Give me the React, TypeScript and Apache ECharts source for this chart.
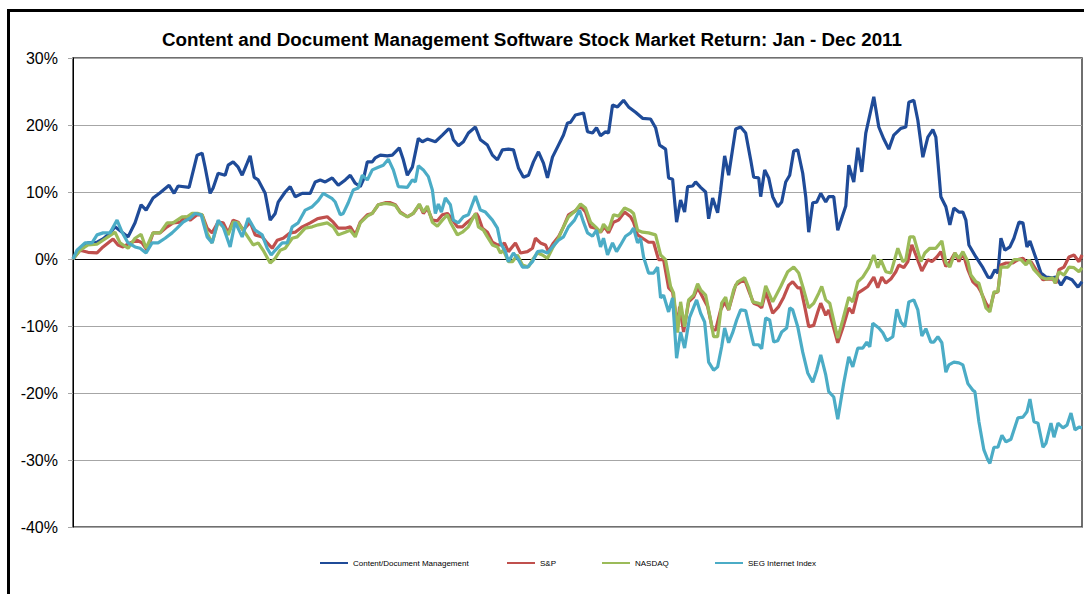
import React, { useEffect, useRef } from "react";
import * as echarts from "echarts";

// x = trading day of 2011 (0 = first trading day), y = cumulative return in %
const seriesNames = ["Content/Document Management", "S&P", "NASDAQ", "SEG Internet Index"];
const seriesColors = ["#1F4B98", "#C0504D", "#9BBB59", "#4BACC6"];
const legendLeft = [320, 507, 602, 715];

const contentDocMgmt: [number, number][] = [[0,0],[1.75,1.6],[3.75,2.4],[6,2.5],[7.5,3.0],[9.25,3.9],[10.5,4.8],[12.25,4.0],[13.75,3.3],[15.5,5.4],[17,8.1],[18.25,7.3],[20,9.1],[21.75,9.9],[24,11.0],[25.25,9.8],[26.25,10.9],[29,10.7],[31,15.5],[32.25,15.8],[33,13.7],[34.25,9.8],[35,10.6],[36.25,12.8],[38,12.5],[38.75,14.0],[40,14.5],[41.25,13.7],[42.25,12.5],[43.5,14.3],[44.25,15.4],[45.25,12.2],[46.25,11.8],[48,9.8],[49.25,5.8],[50.5,6.8],[51.25,8.5],[53,10.0],[54.25,10.8],[55.5,9.3],[57.25,9.8],[59.25,9.8],[60.5,11.5],[61.75,11.8],[63,11.5],[64.75,12.1],[66.25,11.0],[68,11.8],[69.25,12.5],[70.5,11.3],[71.75,10.8],[72.5,11.8],[73.5,14.5],[74.75,14.5],[75.5,15.1],[76.75,15.5],[78.5,15.4],[79.75,15.5],[81.5,16.6],[82.5,14.8],[83.5,12.5],[84.75,13.7],[86.25,18.0],[87.25,17.5],[88.5,17.9],[90.5,17.5],[92.25,18.5],[93.75,19.4],[94.25,19.3],[95,17.8],[96.25,16.9],[97.5,17.5],[98.75,18.8],[100.5,19.7],[101.75,17.8],[103.5,17.0],[104.75,15.5],[106,14.8],[107.25,16.3],[108.75,16.4],[110,16.3],[111.25,13.6],[112.5,12.2],[113.75,12.5],[115,14.5],[116.25,16.0],[117.5,14.3],[118.5,12.1],[119.75,15.2],[121.25,17.0],[122.5,18.5],[123.5,20.3],[124.25,20.4],[125.5,21.5],[127.5,21.8],[128.5,19.0],[129.75,18.8],[130.75,19.6],[131.75,18.4],[133,19.0],[133.75,18.8],[134.75,23.0],[136,22.7],[137.5,23.7],[138.75,22.7],[140.5,21.9],[142.25,21.0],[144.25,20.9],[145.5,19.6],[146.5,17.0],[148,16.4],[148.75,12.1],[149.75,11.9],[150.75,5.5],[151.75,8.8],[152.75,7.0],[153.5,10.8],[154.75,10.9],[155.5,11.5],[156.75,10.7],[158,10.0],[158.75,6.0],[159.75,9.1],[161,6.9],[161.75,10.3],[162.75,15.4],[163.75,12.5],[165.5,19.4],[166.75,19.7],[168,18.8],[169.25,14.8],[170,12.2],[171.25,12.1],[171.75,9.3],[172.75,13.3],[173.75,12.1],[174.75,9.3],[176,7.8],[177,8.5],[178,11.5],[179,12.5],[180,16.1],[181,16.3],[182.25,12.8],[183,9.3],[183.75,4.0],[184.75,8.4],[185.75,8.5],[186.75,9.8],[188,8.5],[188.75,9.3],[190,9.3],[191,4.3],[193,7.9],[193.75,14.0],[195,11.5],[196,16.6],[197,13.0],[198,18.8],[200,24.2],[201.25,19.7],[202.5,17.9],[203.75,16.4],[205,18.5],[206.75,19.5],[208,19.7],[208.75,23.4],[210,23.7],[211,20.7],[212.25,15.2],[213.5,18.2],[214.75,19.3],[215.5,18.2],[216.75,9.3],[218,7.8],[219,5.1],[220,7.6],[221.25,7.0],[222.25,7.0],[223,5.8],[223.75,2.1],[225.5,0.3],[227.25,-1.3],[228.5,-2.7],[229.25,-2.8],[230.25,-1.6],[231,-2.1],[231.75,3.1],[232.75,1.3],[234,1.8],[235,3.1],[236.25,5.5],[237.25,5.4],[238.25,1.8],[239,2.7],[240.5,0.1],[241.75,-2.1],[243,-2.7],[244.5,-2.8],[245.5,-2.7],[246.75,-3.9],[248,-2.7],[249.5,-3.1],[251,-4.2],[252,-3.4]];

const sp500: [number, number][] = [[0,0],[1.75,1.3],[3.75,1.0],[6,0.9],[7.5,1.8],[8.75,2.4],[10,3.0],[11.25,2.1],[12.5,1.8],[14.25,2.4],[16,2.8],[17.25,2.4],[18.5,1.3],[20,3.9],[21.75,3.9],[23.5,4.8],[25,5.4],[26.75,5.5],[28,6.3],[29.25,5.8],[31,6.6],[32.25,6.6],[33.5,4.6],[34.75,3.9],[36.25,5.5],[37.5,5.4],[38.75,3.9],[40,5.8],[41.25,5.5],[42.5,4.3],[44.25,5.5],[45.5,3.6],[47.25,3.3],[48.5,2.4],[49.75,1.6],[51,2.8],[52.5,3.1],[54.25,3.9],[55.5,4.0],[57.25,4.8],[59.25,5.4],[61,6.0],[61.75,6.1],[63.5,6.3],[65,5.5],[66.25,4.6],[68,4.6],[69.25,4.8],[70.5,3.6],[71.75,5.5],[73.5,6.6],[74.75,6.8],[76.25,8.1],[78,8.4],[79.25,8.4],[80.5,8.1],[81.75,7.0],[83.5,6.3],[85,6.8],[86.5,8.1],[87.5,6.8],[88.5,7.6],[89.75,5.8],[91,5.7],[92.25,6.6],[93.5,6.8],[94.25,6.3],[96,4.8],[97.25,4.8],[98.5,5.5],[99.75,6.1],[100.75,6.8],[101.25,6.3],[102.25,4.6],[103.5,4.0],[104.75,2.5],[106,2.1],[107.25,2.1],[107.75,2.4],[108.75,1.1],[110.5,2.4],[111.75,0.9],[113.5,1.1],[114.75,1.6],[115.5,3.1],[116.75,2.4],[118,2.1],[118.75,1.1],[120,2.4],[121.25,3.3],[122.5,4.8],[123.75,6.6],[125.5,7.2],[126.75,7.9],[128,7.0],[129.25,4.8],[130.5,4.6],[131.75,4.0],[132.75,4.8],[133.75,3.9],[135,5.5],[136.25,5.8],[137.75,7.0],[139.25,6.3],[140,5.5],[141,3.6],[142.25,3.1],[143.75,2.5],[145,2.5],[146.25,-0.1],[147.5,-0.1],[148.75,-4.3],[149.75,-4.9],[151,-10.1],[151.5,-7.1],[152.5,-10.9],[153.75,-6.4],[155,-5.7],[156,-4.3],[156.75,-5.1],[158.5,-7.1],[159.75,-10.6],[160.5,-10.6],[161.75,-7.6],[162.75,-6.4],[163.75,-7.6],[165.5,-3.9],[166.75,-3.4],[167.75,-3.1],[169,-5.1],[170,-6.6],[171.25,-6.9],[172,-7.3],[173,-4.9],[174.75,-8.1],[176.25,-7.1],[177.5,-5.7],[178.75,-3.9],[179.75,-3.4],[181,-4.3],[181.75,-4.3],[182.75,-7.1],[183.75,-10.1],[185,-9.9],[186,-7.9],[186.75,-6.6],[188,-8.4],[188.75,-7.6],[191,-12.5],[192.25,-10.3],[193.75,-7.3],[194.75,-8.1],[196,-5.1],[197.25,-4.6],[198.5,-4.1],[200,-2.7],[201,-4.3],[202,-2.7],[203,-3.6],[204.25,-3.0],[205.5,-1.9],[206.25,-0.9],[207.5,-1.3],[208.5,-0.4],[209.5,2.1],[210.5,0.6],[212,-1.8],[213.5,-0.1],[214.5,-0.4],[215.75,0.3],[216.75,1.1],[218,-1.1],[219,-0.4],[220.25,0.9],[221.25,-0.4],[222.25,0.9],[223.5,-1.6],[224.75,-3.4],[226,-4.1],[226.75,-4.9],[228,-6.6],[229,-7.5],[230,-5.1],[231,-4.9],[231.75,-0.9],[233,-0.6],[234.75,-0.6],[236,-0.1],[237.25,0.1],[238.25,-0.6],[239.25,-0.4],[240.5,-1.6],[242.25,-3.1],[243.5,-3.0],[244.75,-3.0],[245.5,-3.6],[246.25,-1.6],[247.5,-1.2],[248.75,0.3],[250,0.6],[251.25,-0.4],[252,0.6]];

const nasdaq: [number, number][] = [[0,0],[1.75,1.3],[3.75,2.1],[6,2.2],[7.5,2.8],[8.75,3.3],[10.5,4.0],[11.75,2.4],[13.75,1.6],[15.5,3.1],[17,3.7],[18.25,1.6],[20,3.9],[21.75,3.9],[23.5,5.4],[25,5.4],[27.25,6.3],[28.5,6.3],[29.75,6.8],[31.25,6.8],[32.25,6.6],[33.5,3.9],[34.75,2.4],[36.25,5.5],[37.5,4.8],[38.75,3.6],[40,5.5],[41.25,5.4],[43,3.9],[45,2.1],[46.25,2.4],[47.5,1.3],[49.25,-0.6],[50.5,0.1],[51.75,1.3],[53,1.6],[54.75,3.1],[56,3.3],[58,4.6],[59.75,4.8],[61.25,5.1],[63.5,5.4],[65,4.8],[66.25,3.6],[68,4.0],[69.25,4.3],[70.5,3.3],[71.75,5.4],[73.5,6.4],[74.75,6.8],[76.25,8.1],[78,8.3],[79.25,8.2],[80.5,8.0],[81.75,6.9],[83.5,6.3],[85,6.8],[86.5,8.2],[87.5,7.0],[88.5,7.9],[89.75,5.5],[91,4.9],[92.25,5.8],[93.5,6.6],[94.25,5.5],[96,3.6],[97.25,4.0],[98.75,4.8],[100.5,6.8],[101.25,4.8],[102.5,4.3],[103.5,3.3],[104.75,2.1],[106,1.8],[106.75,0.9],[107.5,1.3],[108.75,-0.4],[109.75,-0.4],[111,0.6],[112.25,-0.9],[113.75,-1.2],[114.75,-0.1],[116,0.9],[117.25,0.6],[118.5,0.1],[119.75,1.6],[121.25,3.1],[122.5,4.8],[123.75,6.3],[125.5,7.2],[126.75,8.2],[128,7.6],[129.25,5.5],[130.5,4.8],[131.75,4.0],[132.5,5.2],[133.75,4.3],[135,6.6],[136.25,6.4],[137.75,7.6],[139.25,7.2],[140,6.8],[141,4.3],[142.25,4.0],[143.75,3.9],[145.5,3.6],[146.75,0.6],[148,-0.1],[149.25,-4.1],[150,-5.1],[151,-11.0],[151.75,-6.4],[152.75,-10.1],[153.75,-6.1],[155,-5.4],[156,-3.7],[156.75,-4.6],[158,-5.4],[159.25,-9.1],[160,-11.6],[161,-11.6],[162,-6.6],[163,-5.7],[163.75,-7.6],[165,-4.6],[166,-3.4],[167.75,-2.8],[168.75,-4.3],[169.75,-6.4],[171.25,-6.6],[172,-6.9],[173,-4.0],[174.75,-6.4],[176.75,-4.1],[178.5,-1.9],[180,-1.2],[181.25,-2.1],[182.5,-4.6],[183.75,-7.3],[185,-6.6],[186.25,-5.1],[187,-4.1],[188,-6.1],[189,-6.6],[191,-11.8],[192.25,-9.1],[193.75,-5.7],[194.75,-6.4],[196,-3.4],[197.25,-2.7],[198.75,-1.3],[200,0.6],[201,-1.3],[201.75,-0.1],[203,-1.9],[204.25,-2.1],[206,1.6],[207.25,-0.4],[208,-0.1],[209,3.3],[210,3.3],[211.75,-0.4],[212.75,0.9],[214,1.6],[215.5,1.6],[217,2.7],[218,-0.5],[219,-1.2],[220.25,0.9],[221.25,0.1],[222.25,1.1],[223.5,-0.4],[224.25,-2.4],[225.5,-3.4],[226.25,-3.6],[227.25,-5.7],[228,-7.3],[229,-7.9],[230,-4.9],[231,-4.9],[231.75,-1.2],[233.5,-1.2],[235,-0.1],[236.75,-0.1],[238,-0.9],[238.75,-0.1],[240,-1.6],[241.75,-2.7],[243,-3.0],[244.75,-2.8],[245.25,-3.6],[246.25,-1.9],[247.5,-2.4],[248.75,-1.2],[250,-1.3],[251.25,-1.9],[252,-1.3]];

const segInternet: [number, number][] = [[0,0],[1,1.3],[3,2.4],[4.75,2.4],[6,3.6],[7.5,3.9],[9.25,3.9],[11,5.8],[12.25,4.0],[13.75,2.4],[15.5,1.8],[16.75,1.6],[18.25,0.9],[19.75,2.4],[21.25,2.4],[23,3.1],[24.75,3.9],[26,4.6],[27.5,5.5],[29.25,6.1],[30.5,6.8],[32,6.6],[33.5,3.3],[34.75,2.4],[36.25,5.8],[37.5,4.8],[39.25,1.8],[40.5,5.5],[42.25,3.3],[43.75,6.1],[45.5,4.3],[47.25,3.6],[48.5,1.6],[49.5,0.6],[50.5,1.3],[52.25,2.4],[53.5,2.4],[54.75,4.8],[56.25,5.4],[58,7.3],[59.75,7.8],[61.25,8.7],[62.5,9.8],[64.75,9.0],[65.5,8.5],[66.75,6.6],[67.5,6.8],[68.75,8.4],[70,10.3],[71.25,10.6],[72.25,12.5],[73.5,11.8],[74.75,13.3],[76.25,13.7],[77.5,14.0],[78.75,14.9],[80,13.3],[81.25,10.8],[83.5,10.7],[84.75,11.8],[85.5,11.5],[86.25,13.9],[87.5,13.3],[88.75,12.3],[89.75,10.3],[90.5,6.8],[91.25,8.2],[92,7.0],[93,9.1],[94.25,8.1],[95,5.8],[96.25,5.4],[97.5,6.3],[98.75,6.6],[100.5,9.4],[101.75,7.3],[103,7.0],[104.75,5.8],[106,4.6],[106.75,2.4],[108,1.1],[108.75,-0.4],[110,0.9],[111.25,-0.1],[112.25,-1.2],[113.5,-1.2],[114.75,-0.4],[116,1.1],[117.25,1.2],[118.5,0.9],[119.75,1.8],[121.25,2.8],[122.5,3.3],[123.75,4.8],[125.25,5.8],[126.5,7.3],[127.5,5.5],[128.5,3.9],[129.75,3.4],[130.75,4.3],[131.75,1.8],[132.5,3.1],[133.5,0.6],[134.75,2.4],[135.75,1.1],[136.75,2.1],[138,3.4],[139.25,3.9],[140,4.6],[141,2.4],[141.75,3.1],[142.5,0.3],[143.75,-2.1],[145,-2.1],[146,-1.2],[146.75,-5.8],[147.5,-5.4],[148.75,-7.9],[149.75,-5.8],[150.75,-14.8],[151.75,-10.9],[152.75,-13.3],[154,-8.7],[155.75,-6.1],[156.75,-8.1],[157.75,-9.4],[158.75,-15.4],[160,-16.6],[161,-16.1],[162,-13.1],[162.75,-10.3],[163.75,-12.5],[164.75,-11.0],[165.75,-9.1],[166.75,-7.6],[168,-7.7],[169.25,-10.9],[170,-12.8],[171.25,-12.8],[172,-13.4],[173,-8.8],[174,-9.1],[175,-12.4],[176,-12.2],[177,-10.9],[178.25,-10.3],[179,-7.3],[179.75,-7.6],[181,-10.1],[182.25,-13.9],[183.5,-17.0],[184.75,-18.4],[185.75,-16.6],[186.75,-14.3],[188,-17.3],[188.75,-19.8],[190,-20.6],[191,-23.9],[192.5,-18.5],[193.75,-14.6],[194.75,-16.1],[196,-13.3],[197.25,-13.3],[198.25,-12.4],[199,-13.1],[199.75,-9.6],[201.25,-10.3],[202.25,-11.0],[203.25,-12.2],[204.75,-11.6],[205.75,-7.5],[206.75,-9.4],[207.75,-10.1],[208.75,-6.4],[210,-6.1],[211,-7.6],[212,-11.5],[213,-10.4],[214.25,-12.4],[215,-12.4],[216,-11.6],[217,-12.5],[218,-16.9],[218.75,-15.8],[220,-15.4],[221.25,-15.5],[222.25,-15.8],[223.5,-18.6],[224.75,-19.6],[225.25,-19.8],[226.25,-24.3],[227.5,-28.5],[228.5,-30.0],[229,-30.5],[230,-28.1],[231,-28.1],[232,-26.3],[233,-27.3],[234.25,-26.9],[236,-23.7],[237.25,-23.6],[238.25,-22.8],[239,-20.9],[240,-24.3],[241,-24.5],[242.25,-28.1],[243,-27.5],[244.25,-24.5],[245,-26.6],[246,-24.5],[247.25,-25.2],[248.25,-24.8],[249.25,-23.0],[250.25,-25.5],[251.25,-25.1],[252,-25.2]];

const seriesData = [contentDocMgmt, sp500, nasdaq, segInternet];

const TITLE = "Content and Document Management Software Stock Market Return: Jan - Dec 2011";
const FONT = "Arial, 'Liberation Sans', Helvetica, sans-serif";

export default function App() {
  const ref = useRef<HTMLDivElement>(null);

  useEffect(() => {
    if (!ref.current) return;
    const chart = echarts.init(ref.current, undefined, { renderer: "svg" });
    chart.setOption({
      animation: false,
      backgroundColor: "#ffffff",
      title: {
        text: TITLE,
        left: 527,
        textAlign: "center",
        top: 25,
        textStyle: { fontFamily: FONT, fontSize: 18.8, fontWeight: "bold", color: "#000" },
      },
      legend: seriesNames.map((name, i) => ({
        data: [{ name, icon: "rect" }],
        left: legendLeft[i],
        top: 559,
        itemWidth: 28,
        itemHeight: 2,
        itemGap: 5,
        padding: 0,
        textStyle: { fontFamily: FONT, fontSize: 8, color: "#000" },
      })),
      grid: {
        show: true,
        left: 73,
        right: 2,
        top: 58,
        bottom: 67,
        borderColor: "#404040",
        borderWidth: 1.5,
        backgroundColor: "transparent",
      },
      xAxis: {
        type: "value",
        min: 0,
        max: 252,
        axisLine: { show: true, onZero: true, lineStyle: { color: "#000", width: 1 } },
        axisTick: { show: false },
        axisLabel: { show: false },
        splitLine: { show: false },
      },
      yAxis: {
        type: "value",
        min: -40,
        max: 30,
        interval: 10,
        axisLine: { show: true, lineStyle: { color: "#000", width: 1 } },
        axisTick: { show: true, length: 5, lineStyle: { color: "#A6A6A6" } },
        axisLabel: {
          formatter: "{value}%",
          fontFamily: FONT,
          fontSize: 16,
          color: "#000",
          margin: 15,
        },
        splitLine: { show: true, lineStyle: { color: "#A6A6A6", width: 1 } },
      },
      series: seriesNames.map((name, i) => ({
        name,
        type: "line",
        data: seriesData[i],
        showSymbol: false,
        symbol: "none",
        color: seriesColors[i],
        lineStyle: { color: seriesColors[i], width: 3.2 },
      })),
    });
    return () => chart.dispose();
  }, []);

  return (
    <>
      <div
        ref={ref}
        style={{ position: "fixed", left: 0, top: 0, width: 1084, height: 594, background: "#fff" }}
      />
      <div
        style={{
          position: "fixed",
          left: 7,
          top: 9,
          width: 1084,
          height: 600,
          borderTop: "3px solid #000",
          borderLeft: "3px solid #000",
          pointerEvents: "none",
        }}
      />
    </>
  );
}
